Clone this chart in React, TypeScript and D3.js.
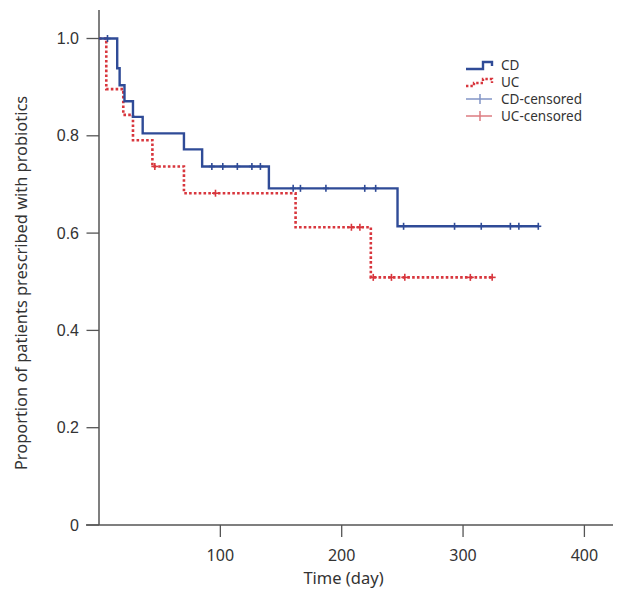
import React from "react";
import * as d3 from "d3";

// CD (Crohn's disease) Kaplan-Meier steps
const cdTime = [0, 15, 17, 21, 28, 36, 70, 85, 140, 246];
const cdSurv = [1, 0.939, 0.904, 0.871, 0.839, 0.805, 0.772, 0.737, 0.692, 0.614];
const cdEnd = 362;
const cdCensor = [7, 93, 102, 114, 126, 133, 160, 166, 187, 219, 228, 251, 293, 315, 339, 346, 362];

// UC (ulcerative colitis) Kaplan-Meier steps
const ucTime = [0, 6, 20, 28, 44, 70, 162, 224];
const ucSurv = [1, 0.896, 0.843, 0.791, 0.737, 0.682, 0.612, 0.509];
const ucEnd = 324;
const ucCensor = [46, 96, 208, 215, 226, 241, 252, 306, 324];

const xTicks = [100, 200, 300, 400];
const yTicks = [0, 0.2, 0.4, 0.6, 0.8, 1.0];
const yTickLabels = ["0", "0.2", "0.4", "0.6", "0.8", "1.0"];

const legendLabels = ["CD", "UC", "CD-censored", "UC-censored"];

const BLUE = "#2f4b97";
const RED = "#d8363d";
const BLUE_LIGHT = "#8295c6";
const RED_LIGHT = "#dd7b80";
const AXIS = "#555";
const TEXT = "#333";

const W = 628;
const H = 605;

export default function App() {
  const x = d3.scaleLinear().domain([0, 400]).range([99, 584.4]);
  const y = d3.scaleLinear().domain([0, 1]).range([525, 38.5]);

  const stepLine = d3
    .line<[number, number]>()
    .x((d) => x(d[0]))
    .y((d) => y(d[1]))
    .curve(d3.curveStepAfter);

  const pts = (t: number[], s: number[], end: number): [number, number][] => {
    const p: [number, number][] = t.map((v, i) => [v, s[i]]);
    p.push([end, s[s.length - 1]]);
    return p;
  };
  const survAt = (t: number[], s: number[], time: number) => {
    let v = s[0];
    for (let i = 0; i < t.length; i++) if (t[i] <= time) v = s[i];
    return v;
  };

  const cdPts = pts(cdTime, cdSurv, cdEnd);
  const ucPts = pts(ucTime, ucSurv, ucEnd);

  const xAxisEnd = 613;
  const yAxisTop = 10;
  const font = "'Noto Sans', 'Open Sans', sans-serif";

  const legX = 466;
  const legRows = [65, 82, 99, 116];

  return (
    <svg
      width={W}
      height={H}
      style={{ position: "absolute", left: 0, top: 0, background: "#fff" }}
    >
      {/* axes */}
      <line x1={x(0)} x2={x(0)} y1={yAxisTop} y2={y(0)} stroke={AXIS} strokeWidth={1.5} />
      <line x1={86} x2={xAxisEnd} y1={y(0)} y2={y(0)} stroke={AXIS} strokeWidth={1.5} />
      {yTicks.map((v, i) => (
        <g key={"yt" + i}>
          <line x1={86.5} x2={x(0)} y1={y(v)} y2={y(v)} stroke={AXIS} strokeWidth={1.3} />
          <text
            x={79}
            y={y(v)}
            dy="0.35em"
            textAnchor="end"
            fontFamily="'Liberation Sans', Arial, sans-serif"
            fontSize={16}
            fill={TEXT}
          >
            {yTickLabels[i]}
          </text>
        </g>
      ))}
      {xTicks.map((v) => (
        <g key={"xt" + v}>
          <line x1={x(v)} x2={x(v)} y1={y(0)} y2={y(0) + 12} stroke={AXIS} strokeWidth={1.3} />
          <text
            x={x(v)}
            y={555}
            dy="0.35em"
            textAnchor="middle"
            fontFamily={font}
            fontSize={16}
            fill={TEXT}
          >
            {v}
          </text>
        </g>
      ))}
      <text
        x={(302 + 385) / 2}
        y={578}
        dy="0.35em"
        textAnchor="middle"
        fontFamily={font}
        fontSize={16.5}
        fill={TEXT}
      >
        Time (day)
      </text>
      <text
        transform={`translate(21,283) rotate(-90)`}
        dy="0.35em"
        textAnchor="middle"
        fontFamily={font}
        fontSize={16.4}
        fill={TEXT}
      >
        Proportion of patients prescribed with probiotics
      </text>

      {/* curves */}
      <path d={stepLine(ucPts) || ""} fill="none" stroke={RED} strokeWidth={2.6} strokeDasharray="2.6 2.2" />
      <path d={stepLine(cdPts) || ""} fill="none" stroke={BLUE} strokeWidth={2.4} />

      {/* censor marks */}
      {ucCensor.map((t, i) => {
        const cx = x(t);
        const cy = y(survAt(ucTime, ucSurv, t));
        return (
          <g key={"uc" + i} stroke={RED} strokeWidth={1.6}>
            <line x1={cx} x2={cx} y1={cy - 3.5} y2={cy + 3.5} />
            <line x1={cx - 3.5} x2={cx + 3.5} y1={cy} y2={cy} />
          </g>
        );
      })}
      {cdCensor.map((t, i) => {
        const cx = x(t);
        const cy = y(survAt(cdTime, cdSurv, t));
        return (
          <g key={"cd" + i} stroke={BLUE} strokeWidth={1.6}>
            <line x1={cx} x2={cx} y1={cy - 3.5} y2={cy + 3.5} />
            <line x1={cx - 3} x2={cx + 3} y1={cy} y2={cy} />
          </g>
        );
      })}

      {/* legend */}
      <path
        d={`M${legX},${legRows[0] + 4} H${legX + 17} V${legRows[0] - 3} H${legX + 26} V${legRows[0] + 1}`}
        fill="none"
        stroke={BLUE}
        strokeWidth={2.4}
      />
      <path
        d={`M${legX},${legRows[1] + 4} H${legX + 8} V${legRows[1] + 1} H${legX + 17} V${legRows[1] - 3} H${legX + 26} V${legRows[1] + 1}`}
        fill="none"
        stroke={RED}
        strokeWidth={2.4}
        strokeDasharray="2.4 2"
      />
      <line x1={legX} x2={legX + 26} y1={legRows[2]} y2={legRows[2]} stroke={BLUE_LIGHT} strokeWidth={1.5} />
      <line x1={legX + 14} x2={legX + 14} y1={legRows[2] - 5} y2={legRows[2] + 5} stroke={BLUE_LIGHT} strokeWidth={1.5} />
      <line x1={legX} x2={legX + 26} y1={legRows[3]} y2={legRows[3]} stroke={RED_LIGHT} strokeWidth={1.5} />
      <line x1={legX + 14} x2={legX + 14} y1={legRows[3] - 5} y2={legRows[3] + 5} stroke={RED_LIGHT} strokeWidth={1.5} />
      {legendLabels.map((l, i) => (
        <text
          key={l}
          x={501}
          y={legRows[i]}
          dy="0.35em"
          fontFamily={font}
          fontSize={13.5}
          fill={TEXT}
        >
          {l}
        </text>
      ))}
    </svg>
  );
}
